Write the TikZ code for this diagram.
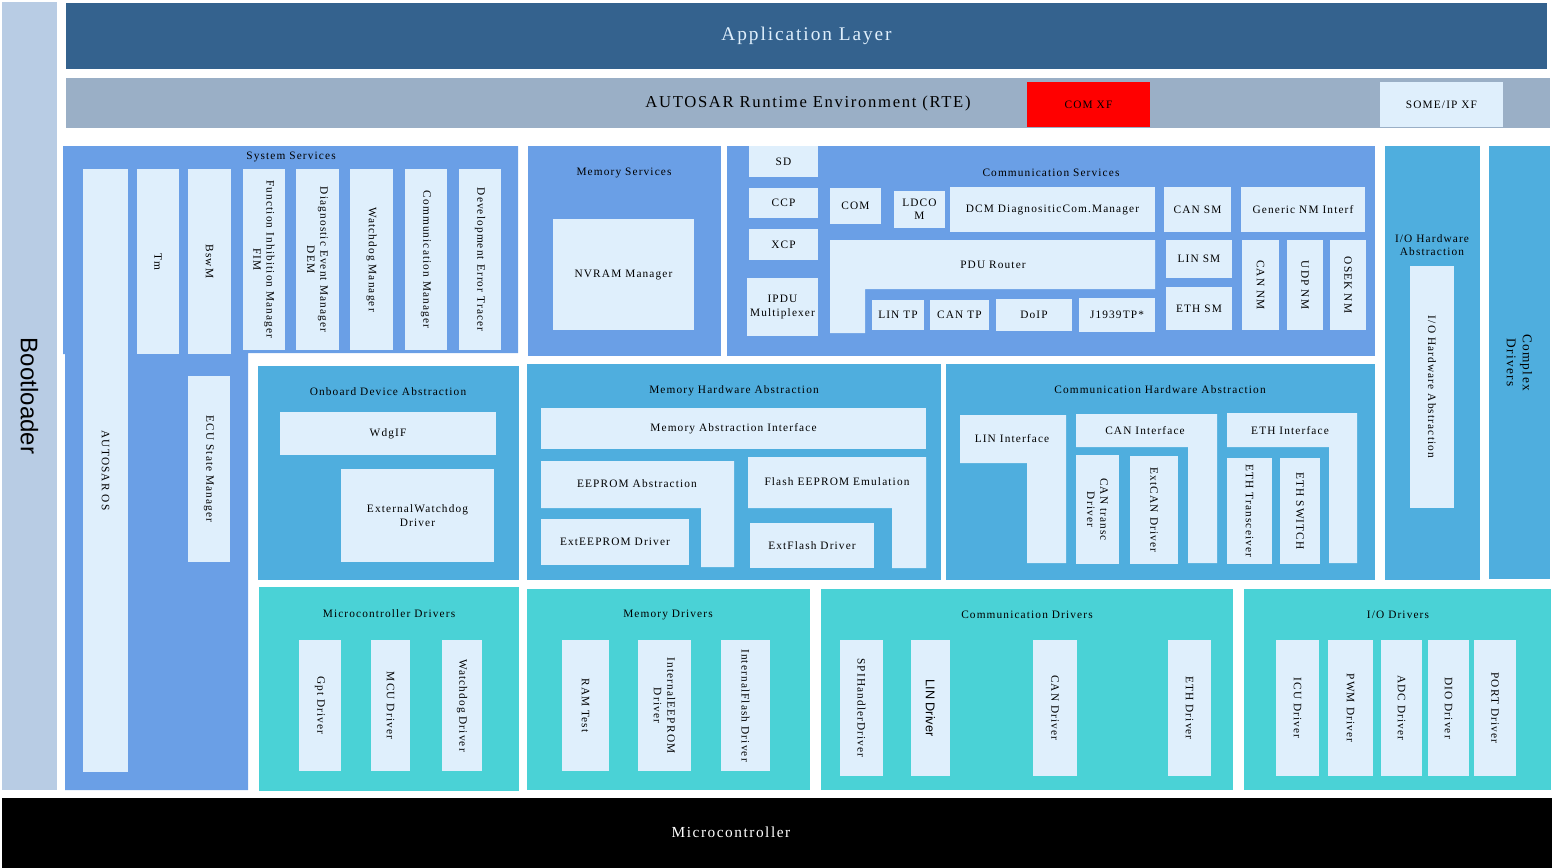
\documentclass[tikz,border=0pt]{standalone}
\usepackage{fontspec}
\setmainfont[LetterSpace=10]{Liberation Serif}
\newfontfamily\sansfont{Liberation Sans}
\usepackage{tikz}
\usetikzlibrary{fit}
\usepackage{xcolor}
\definecolor{bootblue}{RGB}{184,204,228}
\definecolor{appblue}{RGB}{52,98,142}
\definecolor{rteblue}{RGB}{154,175,198}
\definecolor{svcblue}{RGB}{106,159,230}
\definecolor{hwablue}{RGB}{79,174,222}
\definecolor{drvcyan}{RGB}{74,210,214}
\definecolor{modfill}{RGB}{223,239,252}

\begin{document}
\begin{tikzpicture}[
    x=0.75pt, y=-0.75pt,
    every node/.style={font=\fontsize{8.5}{10}\selectfont},
    grp/.style={inner sep=0pt, outer sep=0pt},
    svc/.style={grp, fill=svcblue},
    hwa/.style={grp, fill=hwablue},
    drv/.style={grp, fill=drvcyan},
    mod/.style={grp, fill=modfill},
    vlab/.style={rotate=-90, align=center},
    ht/.style={label={[align=center]center:{#1}}},
    vt/.style={label={[vlab]center:{#1}}}
]
\useasboundingbox (0,0) rectangle (1554,868);

\node[grp, fill=bootblue, fit={(2,2) (57,790)}, label={[vlab, font=\sansfont\fontsize{18}{20}\selectfont]center:Bootloader}] (boot) {};
\node[grp, fill=appblue, fit={(66,3) (1547,69)}, label={[text=modfill, font=\fontsize{14.5}{17}\selectfont]center:Application Layer}] (app) {};
\node[grp, fill=rteblue, fit={(66,78) (1550,128)}] (rte) {};
\node[font=\fontsize{12.5}{15}\selectfont] (rteT) at (808,103) {AUTOSAR Runtime Environment (RTE)};
\node[grp, fill=red, fit={(1027,82) (1150,127)}, ht={COM XF}] (comxf) {};
\node[mod, fit={(1380,82) (1503,127)}, ht={SOME/IP XF}] (someipxf) {};
\node[grp, fill=black, fit={(2,798) (1552,868)}] (mcu) {};
\node[text=white, font=\fontsize{11.5}{14}\selectfont] (mcuT) at (731,832) {Microcontroller};

\fill[svcblue] (63,146) -- (518,146) -- (518,353) -- (248,353) -- (248,790) -- (65,790) -- (65,354) -- (63,354) -- cycle;
\node (syssvcT) at (291,157) {System Services};
\node[mod, fit={(83,169) (128,772)}, vt={AUTOSAR OS}] (os) {};
\node[mod, fit={(137,169) (179,354)}, vt={Tm}] (tm) {};
\node[mod, fit={(188,169) (231,354)}, vt={BswM}] (bswm) {};
\node[mod, fit={(243,169) (285,350)}, vt={Function Inhibition Manager\\FIM}] (fim) {};
\node[mod, fit={(296,169) (339,350)}, vt={Diagnostic Event Manager\\DEM}] (dem) {};
\node[mod, fit={(350,169) (393,350)}, vt={Watchdog Manager}] (wdgm) {};
\node[mod, fit={(405,169) (447,350)}, vt={Communication Manager}] (comm) {};
\node[mod, fit={(459,169) (501,350)}, vt={Development Error Tracer}] (det) {};
\node[mod, fit={(188,376) (230,562)}, vt={ECU State Manager}] (ecum) {};

\node[svc, fit={(528,146) (721,356)}] (memsvc) {};
\node (memsvcT) at (624,173) {Memory Services};
\node[mod, fit={(553,219) (694,330)}, ht={NVRAM Manager}] (nvm) {};

\node[svc, fit={(727,146) (1375,356)}] (comsvc) {};
\node (comsvcT) at (1051,173) {Communication Services};
\node[mod, fit={(749,146) (818,177)}, ht={SD}] (sd) {};
\node[mod, fit={(749,188) (818,218)}, ht={CCP}] (ccp) {};
\node[mod, fit={(749,229) (818,260)}, ht={XCP}] (xcp) {};
\node[mod, fit={(747,278) (818,336)}, ht={IPDU\\Multiplexer}] (ipdum) {};
\node[mod, fit={(830,188) (881,224)}, ht={COM}] (com) {};
\node[mod, fit={(894,191) (945,228)}, ht={LDCO\\M}] (ldcom) {};
\node[mod, fit={(950,187) (1155,232)}, ht={DCM DiagnositicCom.Manager}] (dcm) {};
\node[mod, fit={(1164,187) (1231,232)}, ht={CAN SM}] (cansm) {};
\node[mod, fit={(1241,187) (1365,232)}, ht={Generic NM Interf}] (nmif) {};
\fill[modfill] (830,240) -- (1155,240) -- (1155,289) -- (865,289) -- (865,333) -- (830,333) -- cycle;
\node (pdurT) at (993,265) {PDU Router};
\node[mod, fit={(872,300) (924,330)}, ht={LIN TP}] (lintp) {};
\node[mod, fit={(930,300) (989,330)}, ht={CAN TP}] (cantp) {};
\node[mod, fit={(996,299) (1072,331)}, ht={DoIP}] (doip) {};
\node[mod, fit={(1079,298) (1155,332)}, ht={J1939TP*}] (j1939tp) {};
\node[mod, fit={(1166,240) (1232,278)}, ht={LIN SM}] (linsm) {};
\node[mod, fit={(1166,287) (1232,330)}, ht={ETH SM}] (ethsm) {};
\node[mod, fit={(1242,240) (1279,330)}, vt={CAN NM}] (cannm) {};
\node[mod, fit={(1287,240) (1323,330)}, vt={UDP NM}] (udpnm) {};
\node[mod, fit={(1330,240) (1366,330)}, vt={OSEK NM}] (oseknm) {};

\node[hwa, fit={(1385,146) (1480,580)}] (iohwa) {};
\node[align=center] (iohwaT) at (1432,245) {I/O Hardware\\Abstraction};
\node[mod, fit={(1410,266) (1454,508)}, vt={I/O Hardware Abstraction}] (iohwab) {};
\node[hwa, fit={(1489,146) (1550,579)}, label={[vlab, font=\fontsize{10}{12}\selectfont]center:{Complex\\Drivers}}] (cdd) {};

\node[hwa, fit={(258,366) (519,580)}] (onb) {};
\node (onbT) at (388,392) {Onboard Device Abstraction};
\node[mod, fit={(280,412) (496,455)}, ht={WdgIF}] (wdgif) {};
\node[mod, fit={(341,469) (494,562)}, ht={ExternalWatchdog\\Driver}] (extwdg) {};

\node[hwa, fit={(527,364) (941,580)}] (memhwa) {};
\node (memhwaT) at (734,391) {Memory Hardware Abstraction};
\node[mod, fit={(541,408) (926,449)}, ht={Memory Abstraction Interface}] (memif) {};
\fill[modfill] (541,461) -- (734,461) -- (734,567) -- (701,567) -- (701,508) -- (541,508) -- cycle;
\node (eaT) at (637,484) {EEPROM Abstraction};
\node[mod, fit={(541,519) (689,565)}, ht={ExtEEPROM Driver}] (exteep) {};
\fill[modfill] (748,457) -- (926,457) -- (926,568) -- (892,568) -- (892,508) -- (748,508) -- cycle;
\node (feeT) at (837,482) {Flash EEPROM Emulation};
\node[mod, fit={(750,523) (874,568)}, ht={ExtFlash Driver}] (extfls) {};

\node[hwa, fit={(946,364) (1375,580)}] (comhwa) {};
\node (comhwaT) at (1160,390) {Communication Hardware Abstraction};
\fill[modfill] (960,415) -- (1066,415) -- (1066,563) -- (1027,563) -- (1027,463) -- (960,463) -- cycle;
\node (linifT) at (1012,439) {LIN Interface};
\fill[modfill] (1076,414) -- (1217,414) -- (1217,563) -- (1188,563) -- (1188,447) -- (1076,447) -- cycle;
\node (canifT) at (1145,431) {CAN Interface};
\node[mod, fit={(1076,455) (1119,564)}, vt={CAN transc\\Driver}] (cantrcv) {};
\node[mod, fit={(1130,456) (1178,564)}, vt={ExtCAN Driver}] (extcan) {};
\fill[modfill] (1227,413) -- (1357,413) -- (1357,563) -- (1329,563) -- (1329,447) -- (1227,447) -- cycle;
\node (ethifT) at (1290,431) {ETH Interface};
\node[mod, fit={(1227,458) (1272,564)}, vt={ETH Transceiver}] (ethtrcv) {};
\node[mod, fit={(1280,458) (1320,564)}, vt={ETH SWITCH}] (ethswt) {};

\node[drv, fit={(259,587) (519,791)}] (mcudrv) {};
\node (mcudrvT) at (389,614) {Microcontroller Drivers};
\node[mod, fit={(299,640) (341,771)}, vt={Gpt Driver}] (gpt) {};
\node[mod, fit={(371,640) (410,771)}, vt={MCU Driver}] (mcuD) {};
\node[mod, fit={(442,640) (482,771)}, vt={Watchdog Driver}] (wdg) {};

\node[drv, fit={(527,589) (810,790)}] (memdrv) {};
\node (memdrvT) at (668,615) {Memory Drivers};
\node[mod, fit={(562,640) (609,771)}, vt={RAM Test}] (ramtst) {};
\node[mod, fit={(638,640) (691,771)}, vt={InternalEEPROM\\Driver}] (eep) {};
\node[mod, fit={(721,640) (770,771)}, vt={InternalFlash Driver}] (fls) {};

\node[drv, fit={(821,589) (1233,790)}] (comdrv) {};
\node (comdrvT) at (1027,615) {Communication Drivers};
\node[mod, fit={(840,640) (883,776)}, vt={SPIHandlerDriver}] (spi) {};
\node[mod, fit={(911,640) (950,776)}, label={[vlab, font=\sansfont\fontsize{9.5}{11}\selectfont]center:LIN Driver}] (lin) {};
\node[mod, fit={(1033,640) (1077,776)}, vt={CAN Driver}] (can) {};
\node[mod, fit={(1168,640) (1211,776)}, vt={ETH Driver}] (eth) {};

\node[drv, fit={(1244,589) (1551,790)}] (iodrv) {};
\node (iodrvT) at (1398,615) {I/O Drivers};
\node[mod, fit={(1276,640) (1319,776)}, vt={ICU Driver}] (icu) {};
\node[mod, fit={(1328,640) (1373,776)}, vt={PWM Driver}] (pwm) {};
\node[mod, fit={(1381,640) (1422,776)}, vt={ADC Driver}] (adc) {};
\node[mod, fit={(1428,640) (1469,776)}, vt={DIO Driver}] (dio) {};
\node[mod, fit={(1474,640) (1516,776)}, vt={PORT Driver}] (port) {};
\end{tikzpicture}
\end{document}
